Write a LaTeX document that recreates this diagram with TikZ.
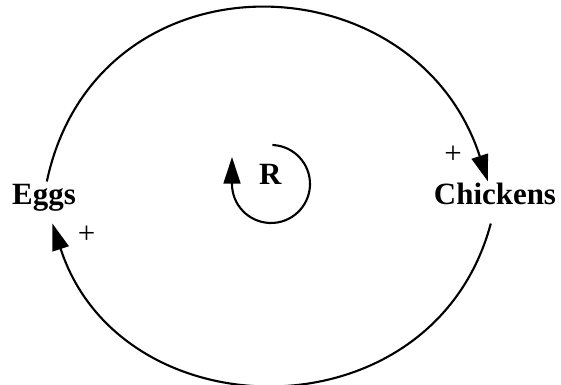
\documentclass[tikz,border=0pt]{standalone}
\usepackage{fontspec}
\setmainfont{Liberation Serif}
\usetikzlibrary{arrows.meta}
\tikzset{
  var/.style  = {font=\bfseries\fontsize{22}{26}\selectfont, anchor=base,
                 text height=15.5pt, text depth=12pt, inner ysep=1pt},
  sign/.style = {font=\fontsize{22}{26}\selectfont},
  flow/.style = {-{Triangle[length=19pt, width=12pt]}, line width=1.5pt},
}
\begin{document}
\begin{tikzpicture}
  \useasboundingbox (0,0) rectangle (14.025,9.625);

  \node[var] (eggs)     at (1.1, 4.5)    {Eggs};
  \node[var] (chickens) at (12.375, 4.5) {Chickens};
  \node[var, text height=, text depth=] (loop) at (6.76, 5.0) {R};
  \coordinate (loopc) at (6.775, 5.025);

  \node[sign] (plustop)  at (11.33, 5.75)  {+};
  \node[sign] (plusleft) at (2.167, 3.75) {+};

  \draw[flow] ([xshift=2pt]eggs.north)
    to[out=78, in=108, looseness=1.38] ([xshift=-5pt]chickens.north);
  \draw[flow] ([xshift=-3pt]chickens.south)
    to[out=-105, in=-72, looseness=1.30] ([xshift=6pt]eggs.south);

  % loop symbol
  \draw[flow] ([shift={(88:0.975)}]loopc)
    arc[start angle=88, end angle=-180, radius=0.975] -- ++(0,0.675);
\end{tikzpicture}
\end{document}
